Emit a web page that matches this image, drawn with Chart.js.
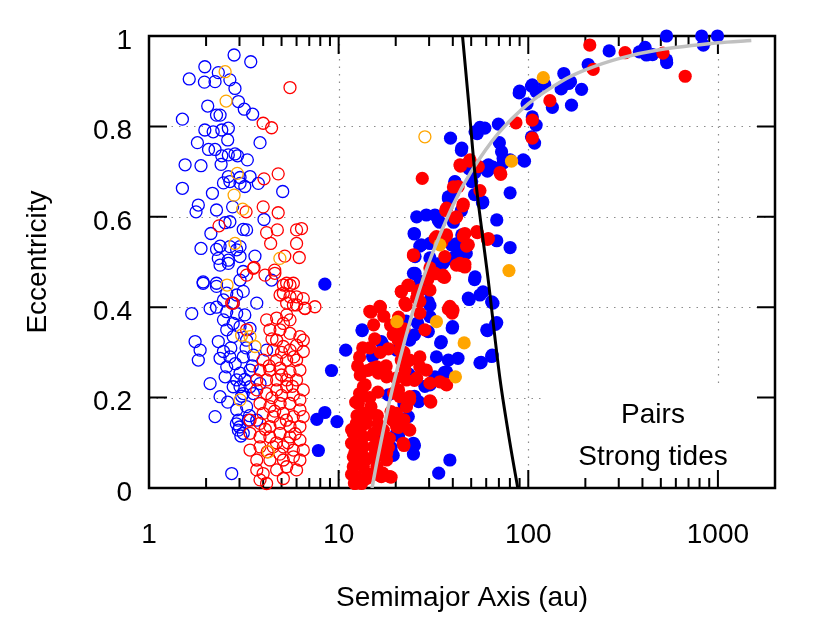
<!DOCTYPE html>
<html>
<head>
<meta charset="utf-8">
<script src="https://cdn.jsdelivr.net/npm/chart.js@4"></script>
<style>
  body { margin: 0; background: #fff; }
  canvas { display: block; }
</style>
</head>
<body>
<canvas id="chart" width="822" height="619"></canvas>
<script>
// axis ticks
var xMajor = [1, 10, 100, 1000];
var yTicks = [0, 0.2, 0.4, 0.6, 0.8, 1];
var keyLabels = ['Pairs', 'Strong tides'];

// [semimajor axis (au), eccentricity]
var openBlue = [
  [2.81,0.958],[3.44,0.943],[1.97,0.932],[1.63,0.905],[1.96,0.898],[2.23,0.899],[2.32,0.919],[2.67,0.903],
  [2.84,0.884],[2.04,0.845],[2.27,0.825],[2.37,0.825],[2.96,0.855],[3.18,0.838],[3.52,0.827],[1.5,0.816],
  [1.97,0.792],[2.18,0.788],[2.42,0.792],[2.62,0.796],[2.6,0.77],[1.8,0.764],[2.06,0.749],[2.23,0.749],
  [3.85,0.764],[2.42,0.735],[2.62,0.737],[2.84,0.739],[2.93,0.735],[3.3,0.726],[1.55,0.715],[1.88,0.713],
  [2.4,0.716],[2.62,0.689],[3.02,0.687],[3.41,0.689],[2.47,0.675],[2.67,0.678],[3.02,0.674],[3.2,0.667],
  [3.77,0.674],[1.5,0.663],[2.16,0.652],[5.07,0.656],[1.82,0.626],[1.77,0.611],[2.27,0.615],[2.76,0.622],
  [4.04,0.594],[2.52,0.587],[2.67,0.589],[2.12,0.563],[3.14,0.572],[3.27,0.571],[1.88,0.53],[2.27,0.528],
  [2.37,0.535],[2.67,0.534],[2.9,0.527],[3.02,0.534],[2.32,0.508],[2.62,0.504],[3.02,0.512],[3.62,0.513],
  [2.37,0.493],[2.62,0.497],[1.93,0.456],[2.27,0.453],[3.02,0.46],[3.14,0.479],[4.43,0.46],
  [1.93,0.453],[2.27,0.446],[2.57,0.431],[2.9,0.427],[3.14,0.435],[2.47,0.416],[2.78,0.409],[3.7,0.409],
  [2.1,0.397],[2.27,0.4],[2.57,0.39],[2.9,0.386],[3.2,0.383],[1.68,0.386],[2.47,0.372],[2.78,0.364],
  [2.57,0.35],[3.02,0.357],[3.41,0.353],[2.78,0.335],[3.27,0.327],[1.75,0.324],[1.86,0.305],[1.82,0.283],
  [2.32,0.324],[2.47,0.302],[2.37,0.287],[2.67,0.29],[3.14,0.29],[3.55,0.294],[4.17,0.305],[2.57,0.268],
  [3.02,0.254],[3.41,0.261],[2.1,0.231],[2.52,0.246],[2.78,0.224],[3.02,0.224],[3.41,0.224],[3.85,0.231],
  [2.9,0.239],[2.37,0.202],[3.14,0.209],[3.55,0.209],[2.23,0.158],[2.9,0.173],[3.27,0.18],[2.96,0.15],
  [3.34,0.15],[3.7,0.15],[2.96,0.128],[3.14,0.121],[2.73,0.032],[3.08,0.203],[3.39,0.16],[2.89,0.142],
  [2.85,0.275],[3.25,0.31],[2.7,0.31],[3.5,0.27],[2.6,0.19],[3.2,0.24],[3.0,0.135],[3.05,0.115]
];
var openRed = [
  [5.54,0.886],[4.0,0.807],[4.43,0.797],[4.04,0.684],[4.8,0.695],[4.0,0.622],[4.8,0.609],[3.25,0.611],
  [2.34,0.58],[4.17,0.565],[4.75,0.571],[6.0,0.571],[6.37,0.574],[4.38,0.541],[6.0,0.541],[5.2,0.513],
  [6.2,0.51],[3.58,0.488],[4.6,0.482],[3.55,0.486],[4.09,0.471],[4.61,0.475],[5.32,0.453],[5.77,0.453],
  [5.11,0.431],[6.0,0.423],[6.63,0.398],[7.5,0.401],[5.77,0.405],[3.27,0.471],[2.78,0.409],[2.73,0.409],
  [3.27,0.35],
  [5.11,0.449],[5.54,0.449],[4.91,0.427],[5.54,0.423],[6.51,0.419],[6.0,0.405],[6.65,0.397],[5.32,0.409],
  [4.17,0.372],[4.71,0.376],[5.32,0.383],[5.11,0.364],[5.54,0.372],[4.34,0.35],[4.91,0.35],[5.54,0.342],
  [6.25,0.335],[6.51,0.327],[6.0,0.316],[4.71,0.327],[5.11,0.313],[5.54,0.305],[4.52,0.305],[4.0,0.283],
  [4.71,0.283],[5.32,0.283],[6.0,0.283],[6.51,0.302],[3.85,0.261],[4.34,0.261],[4.91,0.265],[5.54,0.257],
  [6.25,0.261],[3.7,0.239],[4.17,0.239],[4.71,0.239],[5.32,0.239],[6.0,0.239],[6.51,0.217],[3.7,0.217],
  [4.17,0.209],[4.71,0.217],[5.32,0.224],[5.77,0.206],[6.25,0.195],[3.85,0.187],[4.34,0.18],[4.91,0.187],
  [5.54,0.187],[6.25,0.173],[4.0,0.165],[4.52,0.158],[5.11,0.165],[5.77,0.158],[6.51,0.158],[3.41,0.15],
  [3.85,0.143],[4.34,0.136],[4.91,0.143],[5.54,0.136],[6.25,0.136],[3.41,0.121],[3.85,0.113],[4.34,0.113],
  [4.91,0.121],[5.54,0.113],[6.25,0.106],[3.41,0.084],[3.85,0.091],[4.52,0.091],[5.11,0.091],[5.77,0.084],
  [6.51,0.084],[3.7,0.062],[4.34,0.062],[5.11,0.062],[5.77,0.069],[6.25,0.062],[3.7,0.04],[4.0,0.032],
  [4.71,0.04],[5.32,0.047],[6.0,0.04],[3.85,0.018],[4.17,0.01],[5.11,0.021],
  [4.45,0.33],[5.0,0.3],[5.8,0.29],[4.3,0.27],[5.0,0.25],[5.7,0.225],[4.45,0.2],[5.0,0.205],
  [4.6,0.17],[5.3,0.15],[4.1,0.13],[4.7,0.1],[5.4,0.1],[4.2,0.08],[4.9,0.075],[5.9,0.12]
];
var openOrange = [
  [2.52,0.921],[2.55,0.856],[2.92,0.696],[2.81,0.648],[3.12,0.617],[2.84,0.541],[4.9,0.508],[2.58,0.449],
  [3.08,0.338],[3.41,0.335],[3.62,0.313],[3.02,0.195],[4.26,0.08],[28.5,0.777]
];
var filledBlue = [
  [536,1.0],[821,1.0],[995,1.0],[838,0.98],[267,0.967],[385,0.965],[413,0.975],[420,0.958],[452,0.959],
  [536,0.947],[537,0.941],[207,0.937],[154,0.917],[167,0.899],[150,0.886],[191,0.882],[105,0.892],[90,0.878],
  [110,0.877],[98.5,0.85],[134,0.842],[169,0.847],[105,0.821],[110,0.803],[104,0.777],[108,0.763],
  [104,0.889],[122,0.893],[149,0.883],[163,0.895],[89.5,0.874],
  [69.6,0.805],[55.6,0.798],[59,0.796],[52.4,0.788],[38.9,0.774],[44.6,0.752],[70.4,0.764],[72.3,0.744],
  [73.7,0.729],[80.2,0.726],[94.1,0.726],[61.6,0.715],[80.2,0.653],[50.3,0.678],[41,0.678],[37.9,0.644],
  [40.2,0.652],[57.6,0.633],[68.2,0.593],[25.8,0.6],[29.0,0.604],[32.2,0.604],[33.5,0.593],[25.0,0.563],
  [27.3,0.538],[30.3,0.541],[44.6,0.56],[68.2,0.547],[80.2,0.532],[39.4,0.538],[47.1,0.519],[41,0.512],
  [35.5,0.497],[25.3,0.512],[24.8,0.475],[52.4,0.467],[52.1,0.697],[55.5,0.71],[48.8,0.706],[60.9,0.701],
  [65.1,0.71],[73.7,0.719],[57.3,0.631],[52.1,0.649],[44.4,0.614],[37.9,0.64],[41.1,0.677],[44.4,0.747],
  [53.8,0.784],[95.5,0.723],
  [8.46,0.451],[10.9,0.305],[9.17,0.26],[13.3,0.35],[16.8,0.324],[15.3,0.296],[25.3,0.475],[29.7,0.438],
  [29.7,0.412],[30.3,0.379],[29.7,0.346],[34.8,0.324],[39.9,0.357],[32.8,0.29],[37.9,0.283],[42.6,0.287],
  [48.3,0.42],[55.6,0.427],[57.7,0.434],[64.1,0.412],[55.6,0.277],[64.5,0.294],[60.4,0.35],[68.2,0.366],
  [23.7,0.327],[20.2,0.305],[37.1,0.257],[32.2,0.246],[26.8,0.457],[30.3,0.404],[30.3,0.509],[36.7,0.505],
  [33.3,0.496],[26.8,0.535],[32.3,0.546],[41.7,0.54],[43.1,0.522],[25.1,0.562],[40.3,0.588],[34.1,0.588],
  [52.1,0.461],[48.8,0.417],[65.1,0.409],[67.2,0.362],[60.9,0.348],[56.4,0.278],[64.1,0.291],[34.5,0.321],
  [22.1,0.33],[25.1,0.339],[22.7,0.369],[26.1,0.365],[39.7,0.354],[17.1,0.317],[15.1,0.291],[13.3,0.348],
  [7.67,0.152],[8.46,0.167],[9.8,0.147],[7.82,0.083],[18.3,0.206],[26.4,0.191],[23.3,0.158],[20.2,0.121],
  [24.8,0.099],[24.8,0.075],[19,0.08],[38.6,0.062],[33.7,0.033],[30.3,0.228],[18.6,0.077],[22.1,0.186],
  [25.1,0.203],[28.5,0.225],[23.5,0.252],[36.2,0.256],[20.7,0.116],[25.1,0.094],[19.4,0.072],[18.9,0.09],
  [16.1,0.125]
];
var filledRed = [
  [211,0.98],[324,0.963],[513,0.962],[672,0.911],[220,0.926],[130,0.857],[86.1,0.808],[105,0.814],[105,0.774],
  [27.6,0.685],[43.6,0.715],[49.3,0.726],[54.5,0.711],[71,0.698],[42.7,0.667],[55.6,0.658],[45.4,0.628],
  [37.1,0.619],[41.9,0.6],[46.3,0.563],[53.9,0.565],[61.6,0.552],[48.3,0.538],[24.8,0.516],[36.3,0.512],
  [43.6,0.497],[46.3,0.495],[32.8,0.556],[37.1,0.56],[31.6,0.475],[35.5,0.471],[53.5,0.567],[71.6,0.694],
  [43.9,0.712],[48.9,0.723],[45.2,0.624],[40.3,0.666],[36.7,0.614],[41.1,0.597],[45.5,0.557],[47.3,0.535],
  [60.9,0.55],[35,0.544],[32.3,0.553],[36.7,0.557],[24.8,0.514],[44.4,0.492],[36.2,0.466],[30.3,0.487],
  [32.3,0.474],[29.5,0.461],[23.5,0.448],[26.1,0.431],[21.4,0.435],[22.7,0.404],[26.8,0.413],[37.9,0.396],
  [39.7,0.387],
  [14.6,0.391],[16.5,0.402],[15.3,0.361],[21.4,0.434],[23.2,0.449],[26.8,0.438],[30.3,0.438],[32.2,0.475],
  [35.6,0.467],[41.8,0.493],[46.3,0.489],[22.4,0.409],[26.8,0.387],[25.8,0.42],[38.6,0.402],[40.1,0.394],
  [28.5,0.35],[20.2,0.35],[20.6,0.327],[21.0,0.305],[21.4,0.283],[22.4,0.261],[23.7,0.283],[26.8,0.29],
  [26.8,0.268],[29.0,0.261],[22.8,0.239],[25.8,0.243],[30.3,0.232],[34.2,0.235],[37.1,0.228],[15.9,0.268],
  [16.2,0.254],[17.9,0.246],[13.8,0.228],[21.0,0.338],[14.8,0.389],[16.6,0.4],[20.7,0.378],[19.4,0.339],
  [22.1,0.352],[22.1,0.3],[16.6,0.3],[22.7,0.278],[15.1,0.265],[17.8,0.252],[36.7,0.23],[14.6,0.31],
  [18.3,0.308],[17.8,0.27],
  [13.5,0.224],[23.7,0.195],[30.3,0.193],[21.9,0.099],[23.7,0.128],[18.6,0.025],[16.8,0.025],[12.9,0.209],
  [12.7,0.187],[13.5,0.165],[12.4,0.143],[14.0,0.143],[11.95,0.121],[13.5,0.113],[15.3,0.121],[17.2,0.128],
  [11.95,0.099],[13.5,0.091],[15.3,0.091],[17.2,0.091],[11.95,0.069],[13.5,0.069],[15.3,0.069],[17.9,0.077],
  [11.95,0.047],[13.5,0.047],[15.9,0.047],[12.4,0.025],[14.0,0.021],[16.2,0.029],[17.9,0.062],[20.2,0.136],
  [21.9,0.15],[20.2,0.165],[22.8,0.18],[23.7,0.202],[21.0,0.202],[12.5,0.16],[13,0.13],[12.2,0.08],
  [12.8,0.055],[11.7,0.03],[12.2,0.01],[13.2,0.01],[14.5,0.03],[13,0.25],[12.6,0.27],[14.2,0.26],[14.8,0.18],
  [16,0.16],[16.6,0.1],[18.5,0.11],[19.2,0.15],[19.5,0.21],[20.1,0.243],[25.1,0.238],[13.3,0.203],
  [16.1,0.212],[20.7,0.217],[30.6,0.19],[14.1,0.16],[18.9,0.169],[22.1,0.151],[23.5,0.129],[20.7,0.134],
  [11.7,0.129],[16.1,0.142],[15.1,0.116],[11.7,0.099],[14.1,0.064],[12.5,0.055],[13.7,0.02],[12.1,0.011],
  [18.9,0.024],[17.1,0.033],[22.1,0.094],[16.1,0.072],[18.3,0.09],
  [12.3,0.19],[14.6,0.2],[12.9,0.29],[15.5,0.33],[18.8,0.36],[17.3,0.38],[13.4,0.31]
];
var filledOrange = [
  [120,0.908],[81.6,0.723],[79.1,0.481],[20.3,0.368],[32.8,0.368],[45.9,0.321],[41.3,0.246],[34.2,0.538]
];

// tidal limit (black) and fixed periastron (grey) curves
var tideA = [88, 80, 71, 61.5, 52.8, 48.3, 45];
var tideE = [0, 0.1, 0.24, 0.46, 0.68, 0.86, 1.0];
var periA = [15, 16, 18, 20, 25, 30, 40, 50, 70, 100, 150, 200, 300, 500, 1000, 1500];
var periE = [0, 0.0625, 0.167, 0.25, 0.4, 0.5, 0.625, 0.7, 0.786, 0.85, 0.9, 0.925, 0.95, 0.97, 0.985, 0.99];

var FONT = "'Liberation Sans', Arial, sans-serif";

function pts(list) {
  return list.map(function (p) { return {x: p[0], y: p[1]}; });
}
function zip(xs, ys) {
  return xs.map(function (v, i) { return {x: v, y: ys[i]}; });
}

function openSet(list, color, order) {
  return {
    data: pts(list), order: order, clip: false,
    pointRadius: 6, pointBorderWidth: 1.3,
    pointBackgroundColor: 'rgba(0,0,0,0)', pointBorderColor: color
  };
}
function filledSet(list, color, order) {
  return {
    data: pts(list), order: order, clip: false,
    pointRadius: 6.6, pointBorderWidth: 0,
    pointBackgroundColor: color, pointBorderColor: color
  };
}
function curveSet(xs, ys, color, width, order) {
  return {
    data: zip(xs, ys), order: order, showLine: true, pointRadius: 0,
    borderColor: color, borderWidth: width, tension: 0.3, fill: false
  };
}

var framePlugin = {
  id: 'frame',
  beforeDatasetsDraw: function (chart) {
    var ctx = chart.ctx, a = chart.chartArea;
    var xs = chart.scales.x, ys = chart.scales.y;
    ctx.save();

    // dotted grid
    ctx.strokeStyle = '#8c8c8c';
    ctx.lineWidth = 1.2;
    ctx.setLineDash([1.5, 6]);
    xMajor.slice(1).forEach(function (v) {
      var px = Math.round(xs.getPixelForValue(v)) + 0.5;
      ctx.beginPath(); ctx.moveTo(px, a.bottom); ctx.lineTo(px, a.top); ctx.stroke();
    });
    yTicks.slice(1, -1).forEach(function (v) {
      var py = Math.round(ys.getPixelForValue(v)) + 0.5;
      ctx.beginPath(); ctx.moveTo(a.left, py); ctx.lineTo(a.right, py); ctx.stroke();
    });
    ctx.setLineDash([]);

    // key box hides the grid behind it
    ctx.fillStyle = '#fff';
    ctx.fillRect(a.right - 233, a.bottom - 100, 233, 100);

    // ticks, on all four sides, pointing in
    ctx.strokeStyle = '#000';
    ctx.lineWidth = 2;
    var major = 18, minor = 10;
    function xTick(v, len) {
      var px = xs.getPixelForValue(v);
      ctx.beginPath();
      ctx.moveTo(px, a.bottom); ctx.lineTo(px, a.bottom - len);
      ctx.moveTo(px, a.top); ctx.lineTo(px, a.top + len);
      ctx.stroke();
    }
    xMajor.forEach(function (v) { xTick(v, major); });
    xMajor.forEach(function (v) {
      for (var k = 2; k <= 9; k++) {
        if (v * k < xs.max) xTick(v * k, minor);
      }
    });
    yTicks.forEach(function (v) {
      var py = ys.getPixelForValue(v);
      ctx.beginPath();
      ctx.moveTo(a.left, py); ctx.lineTo(a.left + major, py);
      ctx.moveTo(a.right, py); ctx.lineTo(a.right - major, py);
      ctx.stroke();
    });

    // border
    ctx.lineWidth = 2.5;
    ctx.strokeRect(a.left, a.top, a.right - a.left, a.bottom - a.top);
    ctx.restore();
  },
  afterDatasetsDraw: function (chart) {
    var ctx = chart.ctx, a = chart.chartArea;
    ctx.save();
    ctx.fillStyle = '#000';
    ctx.font = '28px ' + FONT;
    ctx.textAlign = 'center';
    ctx.textBaseline = 'middle';
    ctx.fillText(keyLabels[0], a.right - 122, a.bottom - 73);
    ctx.fillText(keyLabels[1], a.right - 122, a.bottom - 31);
    ctx.restore();
  }
};

new Chart(document.getElementById('chart'), {
  type: 'scatter',
  data: {
    datasets: [
      openSet(openBlue, '#0000ff', 8),
      openSet(openRed, '#ff0000', 7),
      openSet(openOrange, '#ffa500', 6),
      filledSet(filledBlue, '#0000ff', 5),
      filledSet(filledRed, '#ff0000', 4),
      filledSet(filledOrange, '#ffa500', 3),
      curveSet(periA, periE, '#c0c0c0', 3.5, 2),
      curveSet(tideA, tideE, '#000000', 3, 1)
    ]
  },
  options: {
    responsive: false,
    animation: false,
    devicePixelRatio: 1,
    layout: { padding: { top: 36, right: 47, left: 0, bottom: 0 } },
    plugins: {
      legend: { display: false },
      tooltip: { enabled: false }
    },
    scales: {
      x: {
        type: 'logarithmic',
        min: 1,
        max: 2000,
        grid: { display: false, drawTicks: false },
        border: { display: false },
        afterBuildTicks: function (scale) {
          scale.ticks = xMajor.map(function (v) { return {value: v}; });
        },
        afterFit: function (scale) { scale.height = 131; },
        ticks: {
          autoSkip: false,
          maxRotation: 0,
          padding: 30,
          color: '#000',
          font: { family: FONT, size: 28 },
          callback: function (v) { return String(v); }
        },
        title: {
          display: true,
          text: 'Semimajor Axis (au)',
          color: '#000',
          font: { family: FONT, size: 28 },
          padding: { top: 0, bottom: 4 }
        }
      },
      y: {
        min: 0,
        max: 1,
        grid: { display: false, drawTicks: false },
        border: { display: false },
        afterBuildTicks: function (scale) {
          scale.ticks = yTicks.map(function (v) { return {value: v}; });
        },
        afterFit: function (scale) { scale.width = 149; },
        ticks: {
          padding: 17,
          labelOffset: 5,
          color: '#000',
          font: { family: FONT, size: 28 },
          callback: function (v) { return String(v); }
        },
        title: {
          display: true,
          text: 'Eccentricity',
          color: '#000',
          font: { family: FONT, size: 28 },
          padding: { top: 21, bottom: 0 }
        }
      }
    }
  },
  plugins: [framePlugin]
});
</script>
</body>
</html>
